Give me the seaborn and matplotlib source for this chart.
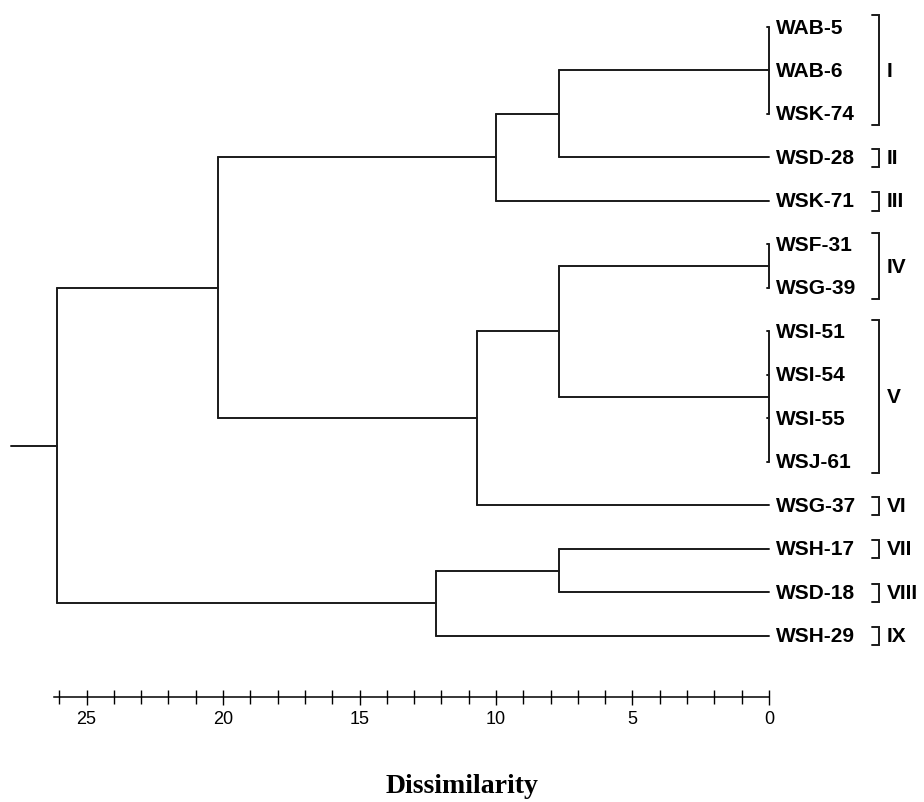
import numpy as np
import pandas as pd
import matplotlib.pyplot as plt
import seaborn as sns

# Dendrogram of 15 accessions, rescaled dissimilarity (0-25)

leaves = ['WAB-5', 'WAB-6', 'WSK-74', 'WSD-28', 'WSK-71', 'WSF-31', 'WSG-39',
          'WSI-51', 'WSI-54', 'WSI-55', 'WSJ-61', 'WSG-37', 'WSH-17', 'WSD-18',
          'WSH-29']

# joins: node name, members, dissimilarity at which they join
node_names = ['c1', 'c2', 'c3', 'c4', 'c5', 'c6', 'c7', 'c8', 'c9', 'c10', 'c11']
node_members = [
    ['WAB-5', 'WAB-6', 'WSK-74'],
    ['c1', 'WSD-28'],
    ['c2', 'WSK-71'],
    ['WSF-31', 'WSG-39'],
    ['WSI-51', 'WSI-54', 'WSI-55', 'WSJ-61'],
    ['c4', 'c5'],
    ['c6', 'WSG-37'],
    ['c3', 'c7'],
    ['WSH-17', 'WSD-18'],
    ['c9', 'WSH-29'],
    ['c8', 'c10'],
]
node_heights = [0.0, 7.7, 10.0, 0.0, 0.0, 7.7, 10.7, 20.2, 7.7, 12.2, 26.1]
root_stub = 27.75

groups = ['I', 'II', 'III', 'IV', 'V', 'VI', 'VII', 'VIII', 'IX']
group_first = [0, 3, 4, 5, 7, 11, 12, 13, 14]
group_last = [2, 3, 4, 6, 10, 11, 12, 13, 14]

scale_max = 26.2

# build the line segments of the tree
pos = {name: (i, 0.0) for i, name in enumerate(leaves)}
segs = []
for name, members, h in zip(node_names, node_members, node_heights):
    ys = [pos[m][0] for m in members]
    segs.append((h, min(ys), h, max(ys)))
    for m in members:
        y, hc = pos[m]
        if h > hc:
            segs.append((hc, y, h, y))
        elif h == 0:
            segs.append((0.08, y, 0.0, y))  # little serif at each leaf
    pos[name] = ((min(ys) + max(ys)) / 2, h)
ry, rh = pos['c11']
segs.append((rh, ry, root_stub, ry))

rows = []
for k, (x0, y0, x1, y1) in enumerate(segs):
    rows.append({'seg': k, 'x': x0, 'y': y0})
    rows.append({'seg': k, 'x': x1, 'y': y1})
df = pd.DataFrame(rows)

sns.set_theme(style='white')
plt.rcParams['font.family'] = ['Liberation Sans', 'DejaVu Sans']

fig = plt.figure(figsize=(9.24, 8.03), dpi=100)
ax = fig.add_axes([0, 0, 1, 1])

sns.lineplot(data=df, x='x', y='y', units='seg', estimator=None, sort=False,
             color='#1a1a1a', linewidth=1.4, ax=ax)

for i, name in enumerate(leaves):
    ax.text(-0.24, i, name, ha='left', va='center', fontsize=15,
            fontweight='bold', color='black')

# group brackets
bx, hook = -4.03, 0.25
for g, a, b in zip(groups, group_first, group_last):
    if a == b:
        top, bot = a - 0.2, b + 0.22
    else:
        top, bot = a - 0.27, b + 0.25
    ax.plot([bx + hook, bx, bx, bx + hook], [top, top, bot, bot],
            color='#1a1a1a', linewidth=1.4, solid_joinstyle='miter')
    ax.text(bx - 0.28, (a + b) / 2, g, ha='left', va='center', fontsize=15,
            fontweight='bold', color='black')

ax.set_xlim(28.17, -5.68)
ax.set_ylim(17.82, -0.644)
ax.set_xlabel('')
ax.set_ylabel('')
ax.set_yticks([])

# dissimilarity scale
for side in ['left', 'right', 'top']:
    ax.spines[side].set_visible(False)
ax.spines['bottom'].set_position(('data', 15.40))
ax.spines['bottom'].set_bounds(scale_max, 0)
ax.spines['bottom'].set_color('black')
ax.spines['bottom'].set_linewidth(1.1)
ax.set_xticks(np.arange(0, 26, 5))
ax.set_xticks(np.arange(0, 27, 1), minor=True)
ax.set_xticklabels([str(v) for v in range(0, 26, 5)],
                   family=['Liberation Sans Narrow', 'Liberation Sans'],
                   fontsize=13, color='black')
ax.tick_params(axis='x', which='major', direction='inout', length=10.8,
               width=1.0, color='black', pad=4, bottom=True)
ax.tick_params(axis='x', which='minor', direction='inout', length=9.4,
               width=1.0, color='black', bottom=True)

fig.text(462 / 924, 1 - 787 / 803, 'Dissimilarity', ha='center', va='center',
         family=['Liberation Serif', 'DejaVu Serif'], fontweight='bold',
         fontsize=20, color='black')

fig.savefig('out.png', dpi=100)
